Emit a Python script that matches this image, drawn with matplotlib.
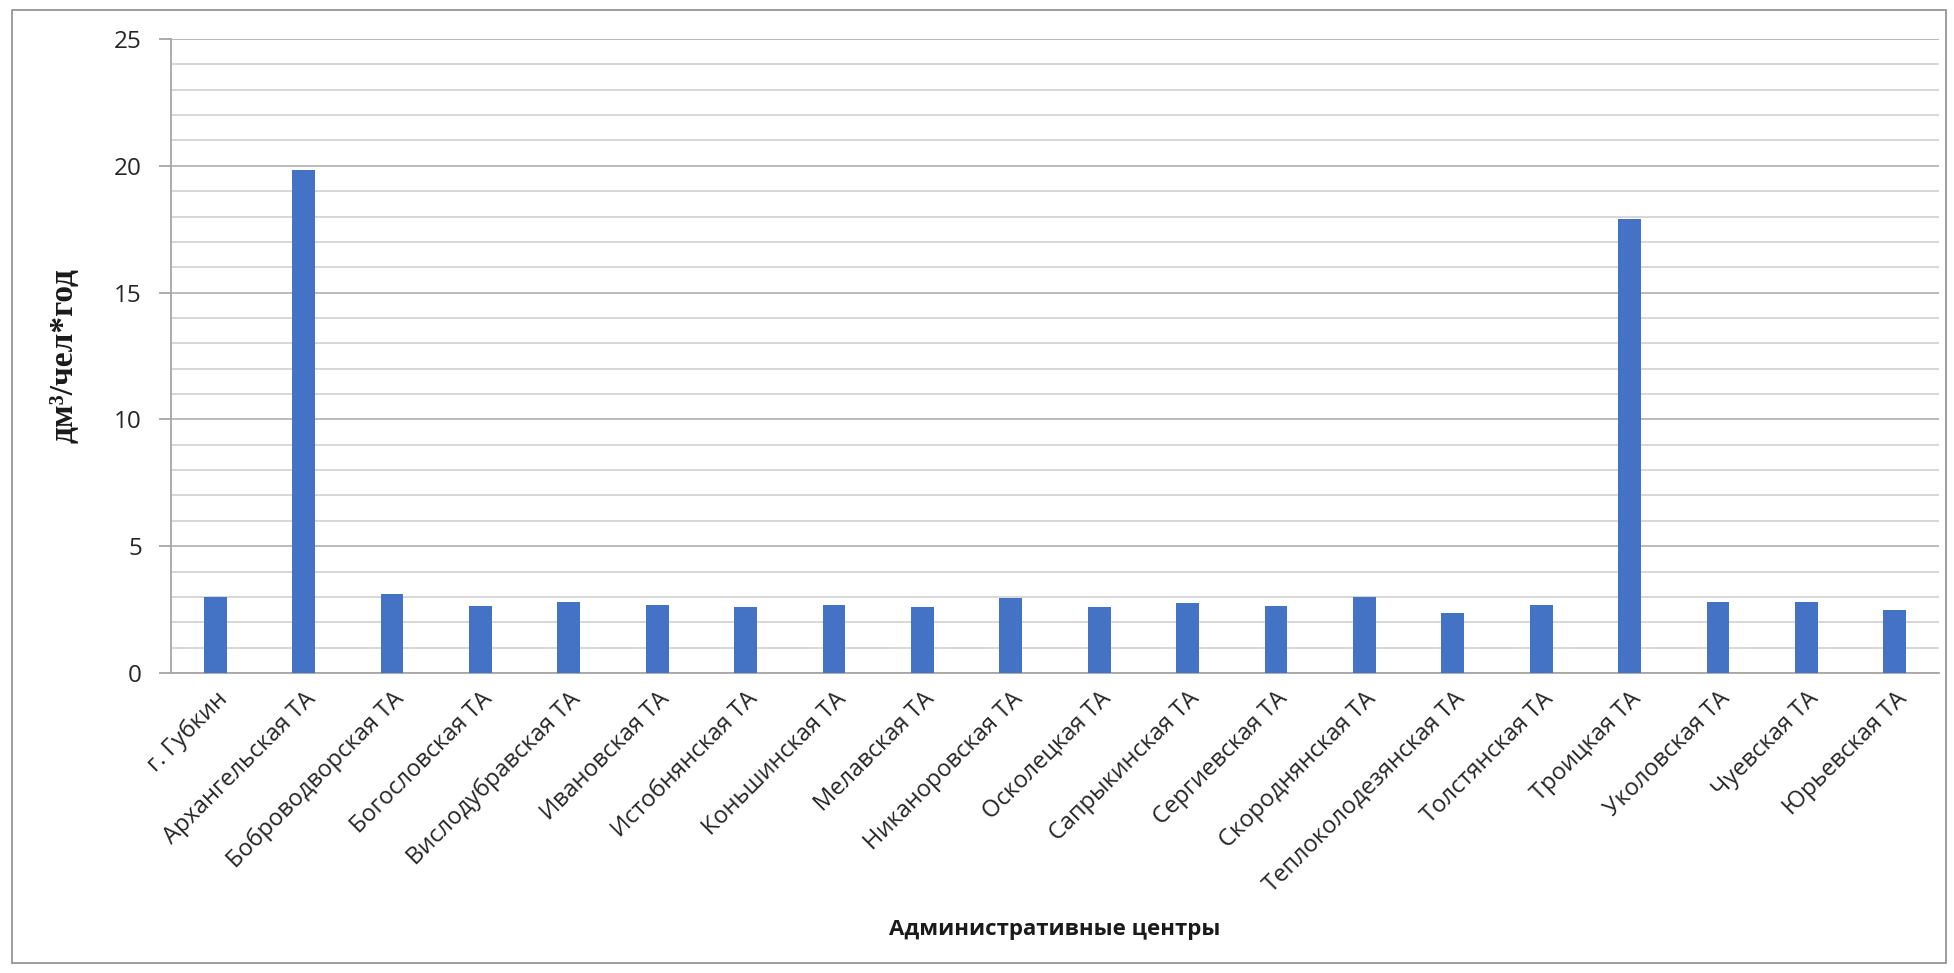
import matplotlib
matplotlib.use("Agg")
import matplotlib.pyplot as plt
from matplotlib.patches import Rectangle
from matplotlib.ticker import MultipleLocator

categories = ["г. Губкин", "Архангельская ТА", "Боброводворская ТА", "Богословская ТА",
              "Вислодубравская ТА", "Ивановская ТА", "Истобнянская ТА", "Коньшинская ТА",
              "Мелавская ТА", "Никаноровская ТА", "Осколецкая ТА", "Сапрыкинская ТА",
              "Сергиевская ТА", "Скороднянская ТА", "Теплоколодезянская ТА", "Толстянская ТА",
              "Троицкая ТА", "Уколовская ТА", "Чуевская ТА", "Юрьевская ТА"]
values = [3.0, 19.85, 3.1, 2.65, 2.8, 2.7, 2.6, 2.7, 2.6, 2.95,
          2.6, 2.75, 2.65, 3.0, 2.35, 2.7, 17.9, 2.8, 2.8, 2.5]
y_ticks = [0, 5, 10, 15, 20, 25]

W, H = 1954, 973
fig = plt.figure(figsize=(W / 100, H / 100), dpi=100)
fig.patch.set_facecolor("white")

# outer chart frame
fig.add_artist(Rectangle((12 / W, 10 / H), (W - 20) / W, (H - 20) / H,
                         transform=fig.transFigure, fill=False,
                         edgecolor="#8c8c8c", linewidth=1.2))

left, right, top, bottom = 171, 1939, 39, 673
ax = fig.add_axes([left / W, 1 - bottom / H, (right - left) / W, (bottom - top) / H])

x = list(range(len(categories)))
ax.bar(x, values, width=0.26, color="#4472C4", zorder=3)

ax.set_xlim(-0.5, len(categories) - 0.5)
ax.set_ylim(0, 25)
ax.set_yticks(y_ticks)
ax.yaxis.set_minor_locator(MultipleLocator(1))
ax.grid(which="major", axis="y", color="#b4b4b4", linewidth=1.3, zorder=0)
ax.grid(which="minor", axis="y", color="#d4d4d4", linewidth=1.3, zorder=0)

for s in ["top", "right"]:
    ax.spines[s].set_visible(False)
ax.spines["left"].set_color("#a6a6a6")
ax.spines["left"].set_linewidth(1.3)
ax.spines["bottom"].set_color("#a6a6a6")
ax.spines["bottom"].set_linewidth(1.3)

ax.tick_params(axis="y", which="major", length=9, color="#a6a6a6", width=1.3,
               labelsize=17.5, pad=12, labelcolor="#262626")
ax.tick_params(axis="y", which="minor", length=0)
ax.tick_params(axis="x", length=0, pad=10)

ax.set_xticks(x)
ax.set_xticklabels(categories, rotation=45, ha="right", rotation_mode="anchor",
                   fontsize=17, color="#262626")
for lbl in ax.get_yticklabels():
    lbl.set_fontfamily("Open Sans")
for lbl in ax.get_xticklabels():
    lbl.set_fontfamily("Open Sans")

fig.text(1055 / W, 1 - 929 / H, "Административные центры", ha="center", va="center",
         fontsize=16, fontweight="bold", family="Open Sans", color="#1a1a1a")
fig.text(64 / W, 1 - (top + bottom) / 2 / H, "дм³/чел*год", ha="center", va="center",
         rotation=90, fontsize=24, fontweight="bold", family="Liberation Serif",
         color="#1a1a1a")

fig.savefig("out.png", dpi=100, facecolor="white")
